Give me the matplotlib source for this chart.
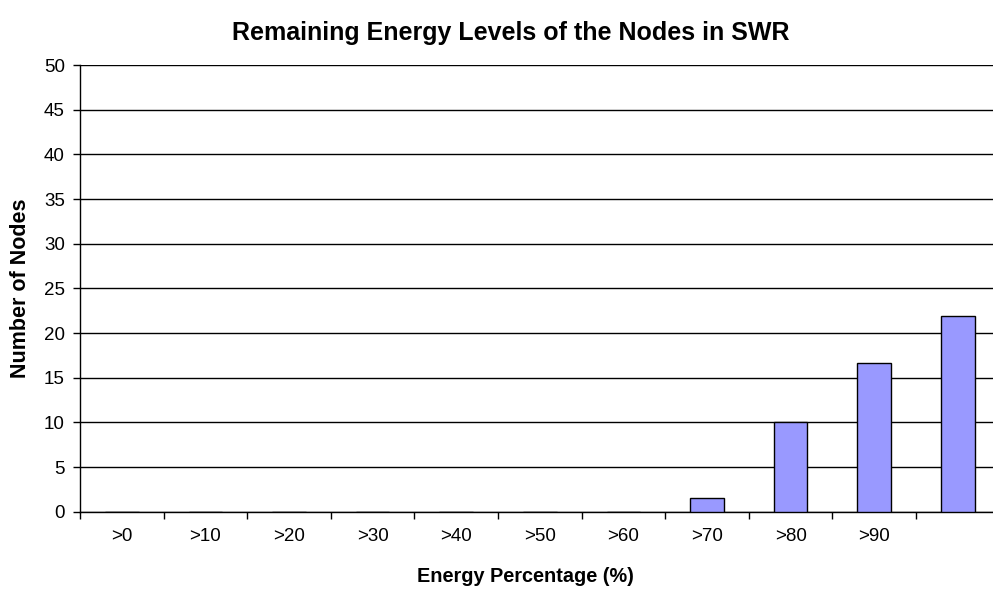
import matplotlib
matplotlib.use("Agg")
import matplotlib.pyplot as plt
import numpy as np

plt.rcParams['font.family'] = ['Liberation Sans', 'DejaVu Sans']

categories = [">0", ">10", ">20", ">30", ">40", ">50", ">60", ">70", ">80", ">90", ""]
node_counts = [0, 0, 0, 0, 0, 0, 0, 1.5, 10, 16.7, 21.9]
y_ticks = [0, 5, 10, 15, 20, 25, 30, 35, 40, 45, 50]

W, H = 993, 592
fig = plt.figure(figsize=(W / 100, H / 100), dpi=100)
left, right, top, bottom = 80, 999.6, 65, 511.7
ax = fig.add_axes([left / W, (H - bottom) / H, (right - left) / W, (bottom - top) / H])

x = np.arange(len(categories))
ax.bar(x, node_counts, width=0.4, color="#9999FF", edgecolor="black", linewidth=1.0, zorder=3)

ax.set_xlim(-0.5, len(categories) - 0.5)
ax.set_ylim(0, 50)
ax.set_yticks(y_ticks)
ax.yaxis.grid(True, color="black", linewidth=1.0, zorder=0)
ax.set_axisbelow(True)

ax.set_xticks(x)
ax.set_xticklabels(categories, fontsize=13.5)
ax.tick_params(axis="x", which="major", length=0, pad=12)
ax.set_xticks(np.arange(len(categories) + 1) - 0.5, minor=True)
ax.tick_params(axis="x", which="minor", length=5, width=1, color="black")
ax.tick_params(axis="y", length=5, width=1, labelsize=13.5, pad=6)

for s in ("top", "right"):
    ax.spines[s].set_visible(False)
for s in ("left", "bottom"):
    ax.spines[s].set_color("black")
    ax.spines[s].set_linewidth(1.0)

# axis titles and chart title placed in figure pixel coordinates
fig.text(525 / W, 1 - 577 / H, "Energy Percentage (%)",
         ha="center", va="center", fontsize=14.3, fontweight="bold")
fig.text(21 / W, 1 - 288 / H, "Number of Nodes", rotation=90,
         ha="center", va="center", fontsize=15.5, fontweight="bold")
fig.text(511 / W, 1 - 33 / H, "Remaining Energy Levels of the Nodes in SWR",
         ha="center", va="center", fontsize=18, fontweight="bold")

fig.savefig("out.png", dpi=100, facecolor="white")
